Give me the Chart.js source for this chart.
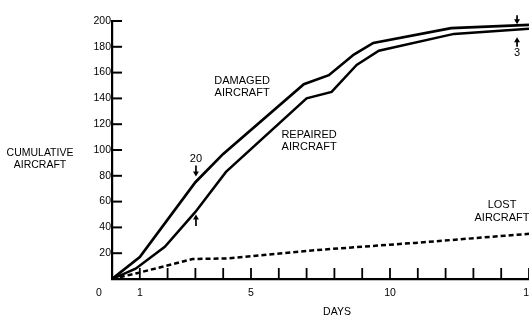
<!DOCTYPE html>
<html>
<head>
<meta charset="utf-8">
<script src="https://cdn.jsdelivr.net/npm/chart.js@4.4.1/dist/chart.umd.min.js"></script>
<style>
  html, body { margin: 0; padding: 0; background: #fff; }
  #wrap { position: relative; width: 529px; height: 318px; }
</style>
</head>
<body>
<div id="wrap"><canvas id="chart"></canvas></div>
<script>
// values
var damagedDays = [0, 1.0, 3.0, 4.0, 6.9, 7.8, 8.7, 9.4, 12.2, 15];
var damagedCount = [0, 17, 75, 97, 151, 158, 174, 183, 194.5, 197];

var repairedDays = [0, 0.85, 1.9, 3.0, 4.1, 7.0, 7.9, 8.8, 9.6, 12.3, 15];
var repairedCount = [0, 8, 25, 52, 83, 140, 145, 166, 177, 190, 194];

var lostDays = [0, 0.9, 1.9, 2.9, 4.2, 7.4, 10.9, 15];
var lostCount = [0, 4.5, 10, 15.5, 16, 22.5, 28, 35];

var dayTicks = [1, 2, 3, 4, 5, 6, 7, 8, 9, 10, 11, 12, 13, 14, 15];
var dayLabels = [1, 5, 10, 15];
var countTicks = [20, 40, 60, 80, 100, 120, 140, 160, 180, 200];

// text notes: [text, day, count]
var notes = [
  ["DAMAGED", 4.68, 153.5],
  ["AIRCRAFT", 4.68, 144],
  ["REPAIRED", 7.09, 111.6],
  ["AIRCRAFT", 7.09, 102],
  ["LOST", 14.03, 57.4],
  ["AIRCRAFT", 14.03, 47.3],
  ["20", 3.02, 93],
  ["3", 14.57, 175]
];
// arrows: [day, tail count, tip count]
var arrows = [
  [3.02, 88, 79.5],
  [3.02, 41, 50],
  [14.57, 204.5, 197.5],
  [14.57, 180, 187.5]
];

var ink = "#000";
var fontFamily = '"Liberation Sans", Arial, sans-serif';

function toPoints(xs, ys) {
  return xs.map(function (x, i) { return { x: x, y: ys[i] }; });
}

var decorPlugin = {
  id: "decor",
  afterDraw: function (chart) {
    var ctx = chart.ctx;
    var xs = chart.scales.x;
    var ys = chart.scales.y;
    var area = chart.chartArea;
    ctx.save();
    ctx.strokeStyle = ink;
    ctx.fillStyle = ink;

    // inward tick marks
    ctx.lineWidth = 1.8;
    dayTicks.forEach(function (d) {
      var px = xs.getPixelForValue(d);
      ctx.beginPath();
      ctx.moveTo(px, area.bottom);
      ctx.lineTo(px, area.bottom - 11);
      ctx.stroke();
    });
    ctx.lineWidth = 2;
    countTicks.forEach(function (v) {
      var py = ys.getPixelForValue(v);
      ctx.beginPath();
      ctx.moveTo(area.left, py);
      ctx.lineTo(area.left + 10, py);
      ctx.stroke();
    });

    // day labels
    ctx.font = "10.5px " + fontFamily;
    ctx.textAlign = "center";
    ctx.textBaseline = "middle";
    dayLabels.forEach(function (d) {
      ctx.fillText(String(d), xs.getPixelForValue(d), 293);
    });
    ctx.fillText("0", 99, 293);

    // axis titles
    ctx.fillText("CUMULATIVE", 40, 153);
    ctx.fillText("AIRCRAFT", 40, 165);
    ctx.fillText("DAYS", 337, 312);

    // notes
    ctx.font = "11px " + fontFamily;
    notes.forEach(function (n) {
      ctx.fillText(n[0], xs.getPixelForValue(n[1]), ys.getPixelForValue(n[2]));
    });

    // arrows
    ctx.lineWidth = 1.7;
    arrows.forEach(function (a) {
      var px = xs.getPixelForValue(a[0]);
      var tail = ys.getPixelForValue(a[1]);
      var tip = ys.getPixelForValue(a[2]);
      var dir = tip > tail ? 1 : -1;
      ctx.beginPath();
      ctx.moveTo(px, tail);
      ctx.lineTo(px, tip - dir * 4);
      ctx.stroke();
      ctx.beginPath();
      ctx.moveTo(px, tip);
      ctx.lineTo(px - 3, tip - dir * 5);
      ctx.lineTo(px + 3, tip - dir * 5);
      ctx.closePath();
      ctx.fill();
    });
    ctx.restore();
  }
};

new Chart(document.getElementById("chart"), {
  type: "line",
  data: {
    datasets: [
      {
        label: "Damaged aircraft",
        data: toPoints(damagedDays, damagedCount),
        borderColor: ink,
        borderWidth: 2.7
      },
      {
        label: "Repaired aircraft",
        data: toPoints(repairedDays, repairedCount),
        borderColor: ink,
        borderWidth: 2.5
      },
      {
        label: "Lost aircraft",
        data: toPoints(lostDays, lostCount),
        borderColor: ink,
        borderWidth: 2.5,
        borderDash: [5, 3]
      }
    ]
  },
  options: {
    responsive: true,
    maintainAspectRatio: false,
    animation: false,
    layout: { padding: { top: 21, right: 0, left: 0, bottom: 0 } },
    elements: {
      point: { radius: 0, hoverRadius: 0 },
      line: { tension: 0, fill: false }
    },
    plugins: {
      legend: { display: false },
      tooltip: { enabled: false }
    },
    scales: {
      x: {
        type: "linear",
        min: 0,
        max: 15,
        ticks: { display: false },
        grid: { display: true, drawOnChartArea: false, drawTicks: false },
        border: { display: true, color: ink, width: 2.2 },
        afterFit: function (scale) { scale.height = 39; }
      },
      y: {
        min: 0,
        max: 200,
        ticks: {
          stepSize: 20,
          color: ink,
          padding: 1,
          font: { family: fontFamily, size: 10.5 },
          callback: function (value) { return value === 0 ? "" : value; }
        },
        grid: { display: true, drawOnChartArea: false, drawTicks: false },
        border: { display: true, color: ink, width: 2.2 },
        afterFit: function (scale) { scale.width = 112; }
      }
    }
  },
  plugins: [decorPlugin]
});
</script>
</body>
</html>
